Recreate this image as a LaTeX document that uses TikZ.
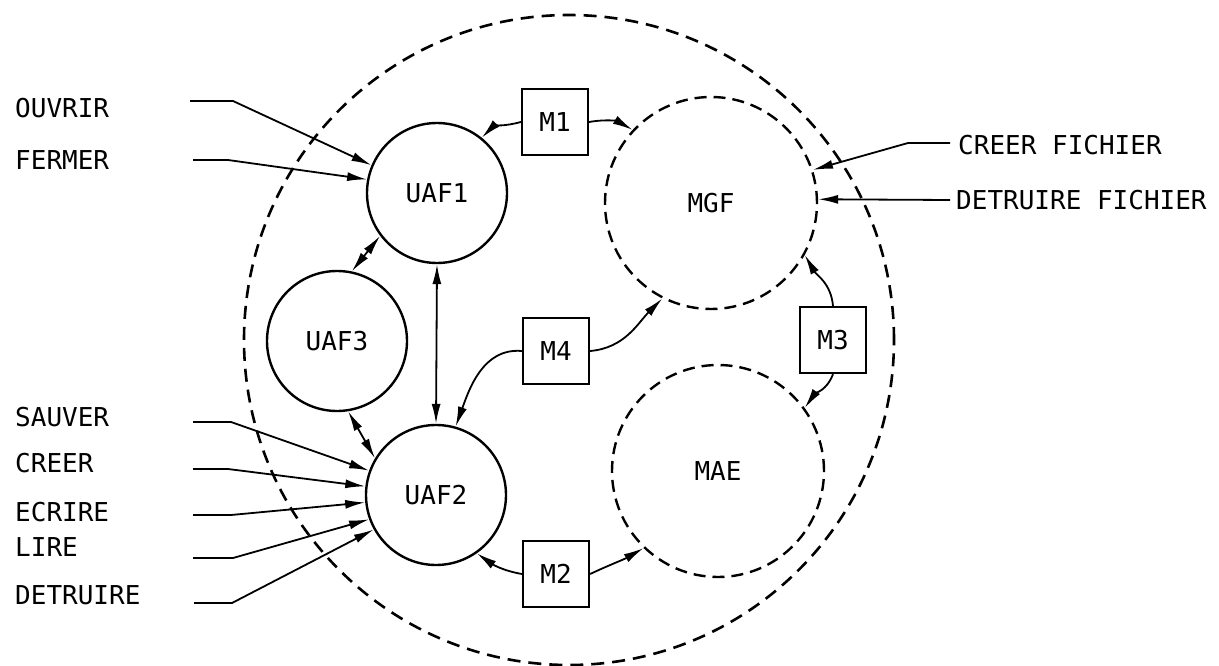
\documentclass[tikz,border=0pt]{standalone}
\usepackage{fontspec}
\setmonofont{DejaVu Sans Mono}
\usetikzlibrary{arrows.meta}
\begin{document}
\begin{tikzpicture}[x=1pt,y=-1pt,
  lbl/.style={font=\ttfamily\fontsize{26}{30}\selectfont,inner sep=0pt},
  proc/.style={circle,draw,line width=2.4pt,minimum size=140pt,inner sep=0pt,lbl},
  modl/.style={circle,draw,line width=2.4pt,dash pattern=on 12pt off 7pt,minimum size=212pt,inner sep=0pt,lbl},
  msg/.style={rectangle,draw,line width=2.2pt,minimum size=66pt,inner sep=0pt,lbl},
  arr/.style={line width=1.8pt,-{Latex[length=20pt,width=9pt]}},
  darr/.style={line width=1.8pt,{Latex[length=20pt,width=9pt]}-{Latex[length=20pt,width=9pt]}}
]
\useasboundingbox (0,0) rectangle (1219,666);
% outer system boundary
\node[circle,draw,line width=2.6pt,dash pattern=on 13pt off 8pt,minimum size=650pt,inner sep=0pt] (sys) at (569,340) {};
% processes
\node[proc] (uaf1) at (437,193) {UAF1};
\node[proc] (uaf3) at (337,341) {UAF3};
\node[proc] (uaf2) at (436,495) {UAF2};
\node[modl] (mgf) at (711,203) {MGF};
\node[modl] (mae) at (718,471) {MAE};
% messages
\node[msg] (m1) at (555,122) {M1};
\node[msg] (m4) at (556,351) {M4};
\node[msg] (m2) at (556,574) {M2};
\node[msg] (m3) at (833,340) {M3};
% left labels
\node[lbl,anchor=west] (ouv) at (15,108) {OUVRIR};
\node[lbl,anchor=west] (fer) at (15,160) {FERMER};
\node[lbl,anchor=west] (sau) at (15,417) {SAUVER};
\node[lbl,anchor=west] (cre) at (15,463) {CREER};
\node[lbl,anchor=west] (ecr) at (15,512) {ECRIRE};
\node[lbl,anchor=west] (lir) at (15,547) {LIRE};
\node[lbl,anchor=west] (det) at (15,595) {DETRUIRE};
% right labels
\node[lbl,anchor=west] (crf) at (958,145) {CREER FICHIER};
\node[lbl,anchor=west] (dtf) at (956,200) {DETRUIRE FICHIER};
% line starts
\coordinate (ouvS) at (190,101);
\coordinate (ferS) at (193,160);
\coordinate (sauS) at (193,422);
\coordinate (creS) at (193,469);
\coordinate (ecrS) at (193,515);
\coordinate (lirS) at (193,558);
\coordinate (detS) at (194,603);
\coordinate (crfS) at (950,143);
\coordinate (dtfS) at (950,200);
% input connectors
\draw[arr] (ouvS) -- ++(43,0) -- (uaf1.157);
\draw[arr] (ferS) -- ++(35,0) -- (uaf1.169);
\draw[arr] (sauS) -- ++(38,0) -- (uaf2.160);
\draw[arr] (creS) -- ++(35,0) -- (uaf2.173);
\draw[arr] (ecrS) -- ++(38,0) -- (uaf2.186);
\draw[arr] (lirS) -- ++(40,0) -- (uaf2.200);
\draw[arr] (detS) -- ++(38,0) -- (uaf2.209);
\draw[arr] (crfS) -- ++(-42,0) -- (mgf.18);
\draw[arr] (dtfS) -- (mgf.2);
% internal links
\draw[darr] (uaf1.south) -- (uaf2.north);
\draw[darr] (uaf3.78) -- (uaf1.217);
\draw[darr] (uaf3.279) -- (uaf2.149);
% message links
\draw[arr] (m1.west) to[out=195,in=45] (uaf1.51);
\draw[arr] (m1.east) to[out=10,in=150] (mgf.137);
\draw[arr] (m4.west) to[out=175,in=70] (uaf2.74);
\draw[arr] (m4.east) to[out=5,in=225] (mgf.243);
\draw[arr] (m2.west) to[out=170,in=-35] (uaf2.-55);
\draw[arr] (m2.east) to[out=25,in=210] (mae.226);
\draw[arr] (m3.north) to[out=95,in=-60] (mgf.-29);
\draw[arr] (m3.south) to[out=-110,in=55] (mae.36);
\end{tikzpicture}
\end{document}
